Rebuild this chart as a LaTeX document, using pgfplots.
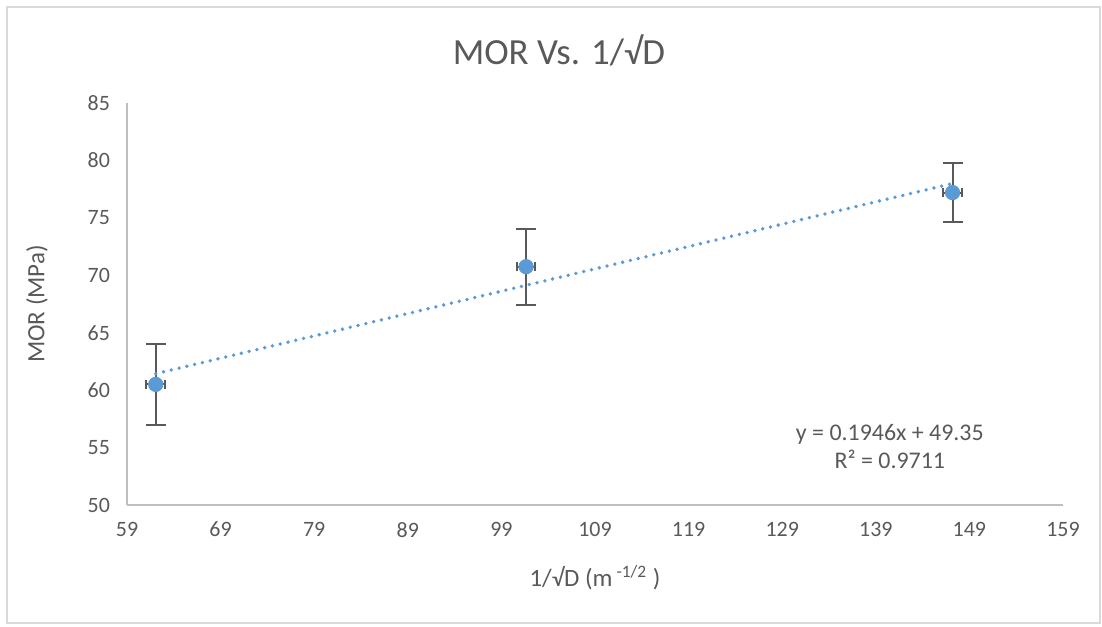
\documentclass[border=0pt]{standalone}
\usepackage{pgfplots}
\pgfplotsset{compat=1.18}
\usepackage{fontspec}
\setmainfont{Carlito}
\definecolor{txt}{RGB}{89,89,89}
\definecolor{axln}{RGB}{191,191,191}
\definecolor{pt}{RGB}{91,155,213}
\definecolor{frm}{RGB}{217,217,217}

\pgfplotstableread{
x y ex ey
62.07 60.50 1.0 3.50
101.64 70.75 1.0 3.30
147.2 77.20 1.0 2.55
}\mor

\begin{document}
\begin{tikzpicture}
\useasboundingbox (-63.5bp,-61bp) rectangle (487.5bp,252.5bp);
\draw[frm, line width=0.8bp] (-60bp,-59bp) rectangle (486.5bp,249bp);
\node[txt, font=\fontsize{18.5}{22}\selectfont] at (216bp,227.5bp) {MOR Vs. 1/√D};
\begin{axis}[
  scale only axis,
  width=468bp, height=201bp,
  xmin=59, xmax=159, ymin=50, ymax=85,
  xtick={59,69,...,159}, ytick={50,55,...,85},
  axis x line*=bottom, axis y line*=left,
  axis line style={axln, line width=0.9bp, -},
  major tick length=0pt,
  tick label style={txt, font=\fontsize{11}{13}\selectfont},
  /pgf/number format/assume math mode=true,
  xticklabel style={yshift=-5bp},
  yticklabel style={xshift=-5bp},
  xlabel={1/√D (m\textsuperscript{ -1/2} )},
  ylabel={MOR (MPa)},
  label style={txt, font=\fontsize{12.5}{14}\selectfont},
  xlabel style={at={(axis description cs:0.5,0)}, anchor=center, yshift=-36.5bp},
  ylabel style={at={(axis description cs:0,0.5)}, anchor=center, yshift=45bp},
  clip=false,
]
% y error bars
\addplot[only marks, mark=none, draw=txt,
  error bars/.cd, y dir=both, y explicit,
  error bar style={line width=1bp, txt},
  error mark options={line width=1bp, txt, mark size=5bp, rotate=90}]
  table[x=x, y=y, y error=ey] {\mor};
% x error bars
\addplot[only marks, mark=none, draw=txt,
  error bars/.cd, x dir=both, x explicit,
  error bar style={line width=1bp, txt},
  error mark options={line width=1bp, txt, mark size=2.4bp, rotate=90}]
  table[x=x, y=y, x error=ex] {\mor};
% points
\addplot[only marks, mark=*, mark size=3.6bp, mark options={fill=pt, draw=pt}]
  table[x=x, y=y] {\mor};
% linear trendline
\addplot[pt, line width=1.9bp, line cap=round, dash pattern=on 0pt off 4bp]
  coordinates {(62.07,61.43) (147.2,77.99)};
\node[txt, align=center, font=\fontsize{12}{14}\selectfont] at (axis cs:140.5,55.1)
  {y = 0.1946x + 49.35\\R² = 0.9711};
\end{axis}
\end{tikzpicture}
\end{document}
